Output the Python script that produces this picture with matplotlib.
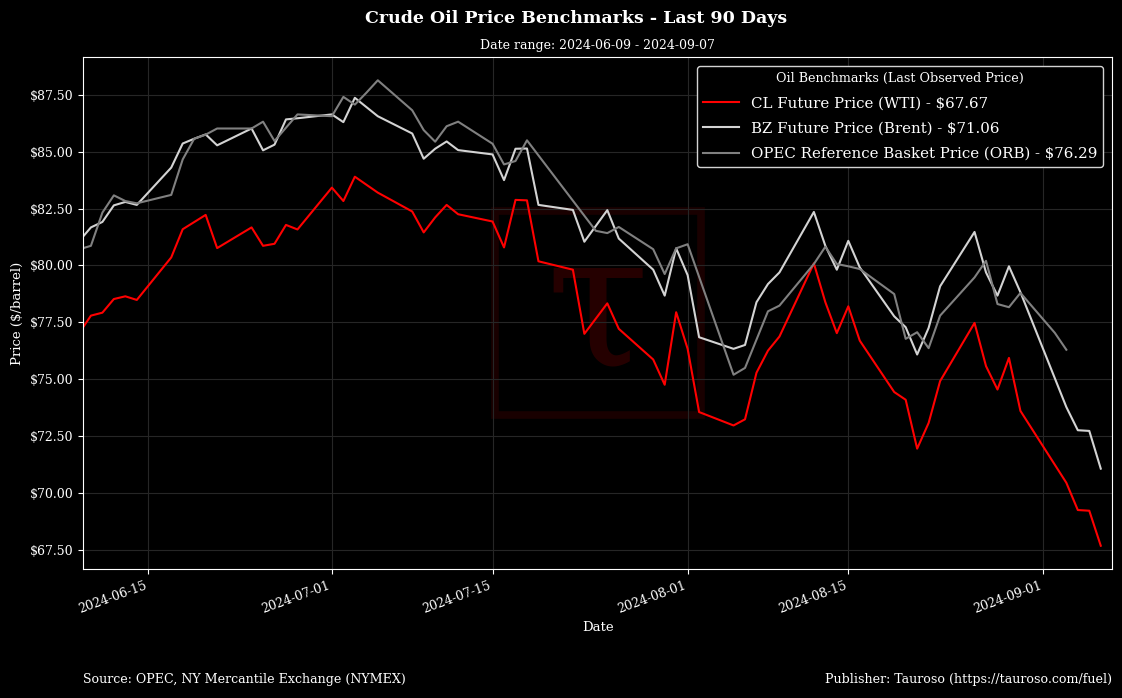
import pandas as pd
import matplotlib.pyplot as plt
import matplotlib.dates as mdates
from matplotlib.patches import Rectangle
from matplotlib.ticker import FuncFormatter

plt.rcParams['font.family'] = ['DejaVu Serif']

# --- data ---
wti_dates = ["2024-06-07", "2024-06-10", "2024-06-11", "2024-06-12", "2024-06-13", "2024-06-14",
             "2024-06-17", "2024-06-18", "2024-06-20", "2024-06-21", "2024-06-24", "2024-06-25",
             "2024-06-26", "2024-06-27", "2024-06-28", "2024-07-01", "2024-07-02", "2024-07-03",
             "2024-07-05", "2024-07-08", "2024-07-09", "2024-07-10", "2024-07-11", "2024-07-12",
             "2024-07-15", "2024-07-16", "2024-07-17", "2024-07-18", "2024-07-19", "2024-07-22",
             "2024-07-23", "2024-07-25", "2024-07-26", "2024-07-29", "2024-07-30", "2024-07-31",
             "2024-08-01", "2024-08-02", "2024-08-05", "2024-08-06", "2024-08-07", "2024-08-08",
             "2024-08-09", "2024-08-12", "2024-08-13", "2024-08-14", "2024-08-15", "2024-08-16",
             "2024-08-19", "2024-08-20", "2024-08-21", "2024-08-22", "2024-08-23", "2024-08-26",
             "2024-08-27", "2024-08-28", "2024-08-29", "2024-08-30", "2024-09-03", "2024-09-04",
             "2024-09-05", "2024-09-06"]
wti_prices = [75.53, 77.79, 77.92, 78.52, 78.64, 78.48,
              80.35, 81.59, 82.22, 80.76, 81.67, 80.86,
              80.95, 81.78, 81.58, 83.42, 82.83, 83.90,
              83.20, 82.37, 81.45, 82.11, 82.66, 82.25,
              81.93, 80.79, 82.88, 82.86, 80.18, 79.81,
              76.99, 78.33, 77.21, 75.86, 74.75, 77.94,
              76.33, 73.55, 72.96, 73.23, 75.28, 76.25,
              76.87, 80.09, 78.38, 77.02, 78.20, 76.69,
              74.43, 74.09, 71.94, 73.07, 74.91, 77.47,
              75.57, 74.54, 75.93, 73.60, 70.44, 69.24,
              69.21, 67.67]

brent_dates = ["2024-06-07", "2024-06-10", "2024-06-11", "2024-06-12", "2024-06-13", "2024-06-14",
               "2024-06-17", "2024-06-18", "2024-06-19", "2024-06-20", "2024-06-21", "2024-06-24",
               "2024-06-25", "2024-06-26", "2024-06-27", "2024-06-28", "2024-07-01", "2024-07-02",
               "2024-07-03", "2024-07-05", "2024-07-08", "2024-07-09", "2024-07-10", "2024-07-11",
               "2024-07-12", "2024-07-15", "2024-07-16", "2024-07-17", "2024-07-18", "2024-07-19",
               "2024-07-22", "2024-07-23", "2024-07-25", "2024-07-26", "2024-07-29", "2024-07-30",
               "2024-07-31", "2024-08-01", "2024-08-02", "2024-08-05", "2024-08-06", "2024-08-07",
               "2024-08-08", "2024-08-09", "2024-08-12", "2024-08-13", "2024-08-14", "2024-08-15",
               "2024-08-16", "2024-08-19", "2024-08-20", "2024-08-21", "2024-08-22", "2024-08-23",
               "2024-08-26", "2024-08-27", "2024-08-28", "2024-08-29", "2024-08-30", "2024-09-03",
               "2024-09-04", "2024-09-05", "2024-09-06"]
brent_prices = [79.90, 81.67, 81.91, 82.64, 82.79, 82.66,
                84.30, 85.36, 85.57, 85.76, 85.28, 86.02,
                85.06, 85.31, 86.42, 86.47, 86.64, 86.30,
                87.37, 86.56, 85.80, 84.69, 85.13, 85.45,
                85.07, 84.88, 83.75, 85.13, 85.14, 82.66,
                82.44, 81.04, 82.43, 81.18, 79.81, 78.67,
                80.75, 79.57, 76.84, 76.33, 76.50, 78.38,
                79.18, 79.69, 82.35, 80.86, 79.81, 81.08,
                79.91, 77.76, 77.28, 76.08, 77.25, 79.08,
                81.47, 79.69, 78.67, 79.96, 78.82, 73.77,
                72.75, 72.72, 71.06]

orb_dates = ["2024-06-07", "2024-06-10", "2024-06-11", "2024-06-12", "2024-06-13", "2024-06-14",
             "2024-06-17", "2024-06-18", "2024-06-19", "2024-06-20", "2024-06-21", "2024-06-24",
             "2024-06-25", "2024-06-26", "2024-06-28", "2024-07-01", "2024-07-02", "2024-07-03",
             "2024-07-04", "2024-07-05", "2024-07-08", "2024-07-09", "2024-07-10", "2024-07-11",
             "2024-07-12", "2024-07-15", "2024-07-16", "2024-07-17", "2024-07-18", "2024-07-24",
             "2024-07-25", "2024-07-26", "2024-07-29", "2024-07-30", "2024-07-31", "2024-08-01",
             "2024-08-05", "2024-08-06", "2024-08-08", "2024-08-09", "2024-08-12", "2024-08-13",
             "2024-08-14", "2024-08-15", "2024-08-16", "2024-08-19", "2024-08-20", "2024-08-21",
             "2024-08-22", "2024-08-23", "2024-08-26", "2024-08-27", "2024-08-28", "2024-08-29",
             "2024-08-30", "2024-09-02", "2024-09-03"]
orb_prices = [80.41, 80.86, 82.32, 83.08, 82.83, 82.73,
              83.10, 84.66, 85.57, 85.75, 86.02, 86.02,
              86.32, 85.47, 86.64, 86.56, 87.41, 87.07,
              87.59, 88.14, 86.82, 85.95, 85.44, 86.12,
              86.32, 85.35, 84.44, 84.59, 85.50, 81.52,
              81.42, 81.69, 80.71, 79.62, 80.75, 80.93,
              75.19, 75.49, 77.98, 78.23, 80.06, 80.82,
              80.06, 79.96, 79.84, 78.74, 76.77, 77.06,
              76.36, 77.79, 79.47, 80.20, 78.30, 78.16,
              78.79, 77.03, 76.29]

start = pd.Timestamp("2024-06-09 08:00")
end = pd.Timestamp("2024-09-07")

fig = plt.figure(figsize=(11.22, 6.98), dpi=100, facecolor="black")
ax = fig.add_axes([0.0742, 0.1848, 0.9171, 0.7335])
ax.set_facecolor("black")

# faint logo watermark
ax.add_patch(Rectangle((0.4, 0.3), 0.2, 0.4, transform=ax.transAxes, fill=False,
                       edgecolor=(1, 0, 0, 0.1), linewidth=5.5, zorder=0))
ax.text(0.5, 0.5, "τ", transform=ax.transAxes, ha="center", va="center",
        fontsize=135, color=(1, 0, 0, 0.15), zorder=0)

ax.plot(pd.to_datetime(wti_dates), wti_prices, color="red", linewidth=1.5,
        label=f"CL Future Price (WTI) - ${wti_prices[-1]:.2f}")
ax.plot(pd.to_datetime(brent_dates), brent_prices, color="lightgray", linewidth=1.5,
        label=f"BZ Future Price (Brent) - ${brent_prices[-1]:.2f}")
ax.plot(pd.to_datetime(orb_dates), orb_prices, color="gray", linewidth=1.5,
        label=f"OPEC Reference Basket Price (ORB) - ${orb_prices[-1]:.2f}")

ax.set_xlim(start, end)
ax.margins(y=0.05)
ax.set_yticks([67.5, 70, 72.5, 75, 77.5, 80, 82.5, 85, 87.5])
ax.yaxis.set_major_formatter(FuncFormatter(lambda v, p: f"${v:.2f}"))
ax.xaxis.set_major_locator(mdates.DayLocator(bymonthday=[1, 15]))
ax.xaxis.set_major_formatter(mdates.DateFormatter("%Y-%m-%d"))
plt.setp(ax.get_xticklabels(), rotation=20, ha="right")

ax.grid(True, color="#262626", linewidth=0.8)
for s in ax.spines.values():
    s.set_color("white")
ax.tick_params(colors="white", labelsize=9)

ax.set_xlabel("Date", color="white", fontsize=9.5)
ax.set_ylabel("Price ($/barrel)", color="white", fontsize=9.5)
ax.set_title("Date range: 2024-06-09 - 2024-09-07", color="white", fontsize=9, pad=6)
fig.suptitle("Crude Oil Price Benchmarks - Last 90 Days", x=0.513, y=0.974, va="center",
             color="white", fontsize=12.5, fontweight="bold")

leg = ax.legend(loc="upper right", title="Oil Benchmarks (Last Observed Price)", fontsize=10.8,
                title_fontsize=9.2, facecolor="black", edgecolor="lightgray", framealpha=1,
                borderaxespad=0.6, labelspacing=0.75, handlelength=2.4)
for t in leg.get_texts():
    t.set_color("white")
leg.get_title().set_color("white")

fig.text(0.0742, 1 - 679 / 698, "Source: OPEC, NY Mercantile Exchange (NYMEX)",
         color="white", fontsize=9.1, va="center", ha="left")
fig.text(0.9913, 1 - 679 / 698, "Publisher: Tauroso (https://tauroso.com/fuel)",
         color="white", fontsize=9.1, va="center", ha="right")

fig.savefig("out.png", dpi=100, facecolor="black")
